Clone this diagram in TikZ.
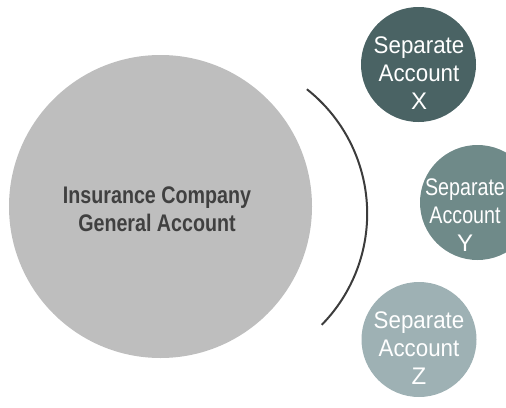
\documentclass[tikz,border=0pt]{standalone}
\usepackage{fontspec}
\setmainfont{Liberation Sans}
\definecolor{gacol}{HTML}{BEBEBE}
\definecolor{gatext}{HTML}{404040}
\definecolor{xcol}{HTML}{4A6364}
\definecolor{ycol}{HTML}{6F8A89}
\definecolor{zcol}{HTML}{9EB1B4}
\definecolor{arccol}{HTML}{3C3C3C}
\tikzset{
  sepcircle/.style={circle, minimum size=115pt, inner sep=0pt},
  septext/.style={inner sep=0pt, text=white, align=center,
    font=\fontsize{24}{28}\selectfont},
}
\begin{document}
\begin{tikzpicture}[x=1pt,y=-1pt]
\useasboundingbox (0,0) rectangle (506,407);
\clip (0,0) rectangle (506,407);
\node[circle, fill=gacol, minimum size=303pt, inner sep=0pt] (ga) at (160.5,206.5) {};
\node[inner sep=0pt, text=gatext, align=center,
  font=\fontsize{24}{27.6}\selectfont\bfseries] (gatxt) at (157,209)
  {\scalebox{0.82}[1]{Insurance Company}\\\scalebox{0.82}[1]{General Account}};
\node[sepcircle, fill=xcol] (x) at (418.5,64.5) {};
\node[septext] (xt) at (419,73.5) {\scalebox{0.93}[1]{Separate}\\\scalebox{0.93}[1]{Account}\\X};
\node[sepcircle, fill=ycol] (y) at (477.5,202.5) {};
\node[septext] (yt) at (465,215.5) {\scalebox{0.82}[1]{Separate}\\\scalebox{0.82}[1]{Account}\\Y};
\node[sepcircle, fill=zcol] (z) at (419,339.5) {};
\node[septext] (zt) at (419,348.5) {\scalebox{0.93}[1]{Separate}\\\scalebox{0.93}[1]{Account}\\Z};
\draw[arccol, line width=2pt] (208.6,213.7) ++(-51.7:158.6) arc[start angle=-51.7, end angle=44.5, radius=158.6];
\end{tikzpicture}
\end{document}
